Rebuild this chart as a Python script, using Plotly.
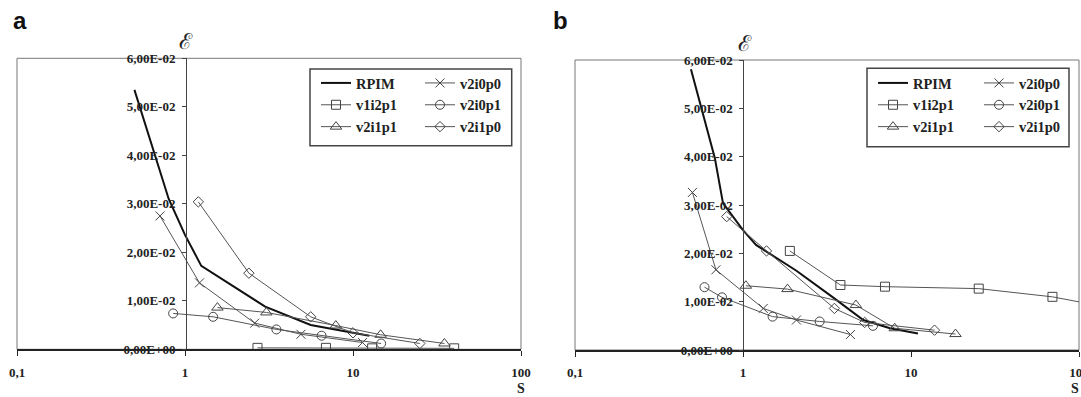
import plotly.graph_objects as go

W, H = 1081, 397

# ---------------- data ----------------
series_names = ["RPIM", "v1i2p1", "v2i1p1", "v2i0p0", "v2i0p1", "v2i1p0"]

# panel a
a_rpim_x = [0.5, 0.67, 0.8, 1.0, 1.25, 3.0, 5.6, 12.5]
a_rpim_y = [0.0535, 0.0394, 0.031, 0.0236, 0.0172, 0.0088, 0.0050, 0.0028]
a_v1i2p1_x = [2.7, 6.9, 13.0, 40.0]
a_v1i2p1_y = [0.0003, 0.0003, 0.0002, 0.0002]
a_v2i1p1_x = [1.56, 3.05, 7.9, 14.6, 35.0]
a_v2i1p1_y = [0.0086, 0.0076, 0.0049, 0.0030, 0.0012]
a_v2i0p0_x = [0.71, 1.22, 2.6, 4.9, 11.4]
a_v2i0p0_y = [0.0275, 0.0137, 0.0054, 0.0031, 0.0014]
a_v2i0p1_x = [0.85, 1.47, 3.5, 6.5, 14.7]
a_v2i0p1_y = [0.0074, 0.0067, 0.0041, 0.0028, 0.0012]
a_v2i1p0_x = [1.2, 2.4, 5.6, 10.0, 25.0]
a_v2i1p0_y = [0.0304, 0.0157, 0.0067, 0.0034, 0.0012]

# panel b
b_rpim_x = [0.49, 0.57, 0.68, 0.76, 1.0, 1.2, 2.08, 3.4, 5.2, 7.5, 11.0]
b_rpim_y = [0.0581, 0.0497, 0.0397, 0.0304, 0.0248, 0.0217, 0.0164, 0.011, 0.0062, 0.0045, 0.0034]
b_v1i2p1_x = [1.9, 3.8, 7.0, 25.3, 69.5, 130.0]
b_v1i2p1_y = [0.0205, 0.01345, 0.0131, 0.0127, 0.0110, 0.0092]
b_v2i1p1_x = [1.04, 1.84, 4.7, 8.0, 18.4]
b_v2i1p1_y = [0.0133, 0.0126, 0.0093, 0.0045, 0.0033]
b_v2i0p0_x = [0.5, 0.69, 1.32, 2.08, 4.36]
b_v2i0p0_y = [0.0326, 0.0166, 0.0086, 0.0062, 0.0032]
b_v2i0p1_x = [0.59, 0.75, 1.5, 2.86, 5.94]
b_v2i0p1_y = [0.013, 0.0109, 0.0069, 0.0059, 0.0050]
b_v2i1p0_x = [0.8, 1.38, 3.5, 5.3, 13.8]
b_v2i1p0_y = [0.0276, 0.0205, 0.0086, 0.0057, 0.0041]

x_tickvals = [0.1, 1, 10, 100]
x_ticktext = ["0,1", "1", "10", "100"]
y_tickvals = [0, 0.01, 0.02, 0.03, 0.04, 0.05, 0.06]
y_ticktext = ["0,00E+00", "1,00E-02", "2,00E-02", "3,00E-02", "4,00E-02", "5,00E-02", "6,00E-02"]

# ---------------- styling ----------------
SERIF = "Liberation Serif"
GRAY = "#555555"
symbols = {
    "v1i2p1": ("square-open", 9),
    "v2i1p1": ("triangle-up-open", 10),
    "v2i0p0": ("x-thin-open", 9),
    "v2i0p1": ("circle-open", 9),
    "v2i1p0": ("diamond-open", 8),
}

panel_a = {
    "RPIM": (a_rpim_x, a_rpim_y), "v1i2p1": (a_v1i2p1_x, a_v1i2p1_y),
    "v2i1p1": (a_v2i1p1_x, a_v2i1p1_y), "v2i0p0": (a_v2i0p0_x, a_v2i0p0_y),
    "v2i0p1": (a_v2i0p1_x, a_v2i0p1_y), "v2i1p0": (a_v2i1p0_x, a_v2i1p0_y),
}
panel_b = {
    "RPIM": (b_rpim_x, b_rpim_y), "v1i2p1": (b_v1i2p1_x, b_v1i2p1_y),
    "v2i1p1": (b_v2i1p1_x, b_v2i1p1_y), "v2i0p0": (b_v2i0p0_x, b_v2i0p0_y),
    "v2i0p1": (b_v2i0p1_x, b_v2i0p1_y), "v2i1p0": (b_v2i1p0_x, b_v2i1p0_y),
}

fig = go.Figure()

def add_panel(data, xa, ya, leg1, leg2):
    for name in series_names:
        xs, ys = data[name]
        leg = leg1 if name in ("RPIM", "v1i2p1", "v2i1p1") else leg2
        if name == "RPIM":
            fig.add_trace(go.Scatter(
                x=xs, y=ys, name=name, mode="lines", xaxis=xa, yaxis=ya,
                line=dict(color="#111111", width=2), legend=leg))
        else:
            sym, sz = symbols[name]
            fig.add_trace(go.Scatter(
                x=xs, y=ys, name=name, mode="lines+markers", xaxis=xa, yaxis=ya,
                line=dict(color=GRAY, width=1),
                marker=dict(symbol=sym, size=sz, color="#444444",
                            line=dict(width=1, color="#444444")),
                legend=leg))

add_panel(panel_a, "x", "y", "legend", "legend2")
add_panel(panel_b, "x2", "y2", "legend3", "legend4")

tickfont = dict(family=SERIF, size=13, color="#222222", weight="bold")

def xaxis(dom, anchor):
    return dict(type="log", range=[-1, 2], domain=dom, anchor=anchor,
                automargin=False, ticklabeloverflow="allow",
                showline=True, linecolor="#222222", linewidth=1.5,
                ticks="outside", ticklen=5, tickcolor="#222222",
                ticklabelstandoff=5,
                tickvals=x_tickvals, ticktext=x_ticktext, tickfont=tickfont,
                showgrid=False, zeroline=False)

def yaxis(dom, pos):
    return dict(range=[0, 0.06], domain=dom, anchor="free", position=pos,
                automargin=False,
                showline=True, linecolor="#444444", linewidth=1,
                ticks="outside", ticklen=4, tickcolor="#444444",
                ticklabelstandoff=4,
                tickvals=y_tickvals, ticktext=y_ticktext, tickfont=tickfont,
                showgrid=False, zeroline=False)

legfont = dict(family=SERIF, size=14.5, color="#222222", weight="bold")

def legend(x, ytop):
    return dict(x=x / W, y=1 - ytop / H, xanchor="left", yanchor="top",
                bgcolor="rgba(0,0,0,0)", borderwidth=0, font=legfont,
                orientation="v", tracegroupgap=0)

fig.update_layout(
    width=W, height=H, margin=dict(l=0, r=0, t=0, b=0, autoexpand=False),
    paper_bgcolor="white", plot_bgcolor="white",
    xaxis=xaxis([17 / W, 521 / W], "y"),
    yaxis=yaxis([1 - 349.3 / H, 1 - 58.3 / H], 186 / W),
    xaxis2=xaxis([575 / W, 1079 / W], "y2"),
    yaxis2=yaxis([1 - 350 / H, 1 - 60 / H], 743.3 / W),
    legend=legend(316, 67),
    legend2=legend(420, 67),
    legend3=legend(873, 67),
    legend4=legend(979, 67),
    shapes=[
        dict(type="rect", xref="x domain", yref="y domain", x0=0, x1=1, y0=0, y1=1,
             line=dict(color="#777777", width=1), layer="below"),
        dict(type="rect", xref="x2 domain", yref="y2 domain", x0=0, x1=1, y0=0, y1=1,
             line=dict(color="#777777", width=1), layer="below"),
        dict(type="rect", xref="paper", yref="paper",
             x0=310 / W, x1=511.7 / W, y0=1 - 145.7 / H, y1=1 - 69 / H,
             line=dict(color="#444444", width=1.5), fillcolor="white", layer="below"),
        dict(type="rect", xref="paper", yref="paper",
             x0=867 / W, x1=1069 / W, y0=1 - 146.7 / H, y1=1 - 68.3 / H,
             line=dict(color="#444444", width=1.5), fillcolor="white", layer="below"),
    ],
    annotations=[
        dict(text="a", x=11 / W, y=1 - 5 / H, xref="paper", yref="paper",
             xanchor="left", yanchor="top", showarrow=False,
             font=dict(family="Liberation Sans", size=24, color="#111111", weight="bold")),
        dict(text="b", x=551 / W, y=1 - 5 / H, xref="paper", yref="paper",
             xanchor="left", yanchor="top", showarrow=False,
             font=dict(family="Liberation Sans", size=24, color="#111111", weight="bold")),
        dict(text="ℰ", x=186 / W, y=1 - 42 / H, xref="paper", yref="paper",
             xanchor="center", yanchor="middle", showarrow=False,
             font=dict(family="DejaVu Serif", size=22, color="#222222")),
        dict(text="ℰ", x=745 / W, y=1 - 43 / H, xref="paper", yref="paper",
             xanchor="center", yanchor="middle", showarrow=False,
             font=dict(family="DejaVu Serif", size=22, color="#222222")),
        dict(text="S", x=521 / W, y=1 - 388 / H, xref="paper", yref="paper",
             xanchor="center", yanchor="middle", showarrow=False,
             font=dict(family=SERIF, size=14, color="#222222", weight="bold")),
        dict(text="S", x=1075 / W, y=1 - 388 / H, xref="paper", yref="paper",
             xanchor="center", yanchor="middle", showarrow=False,
             font=dict(family=SERIF, size=14, color="#222222", weight="bold")),
    ],
)

fig.write_html("out.html")
